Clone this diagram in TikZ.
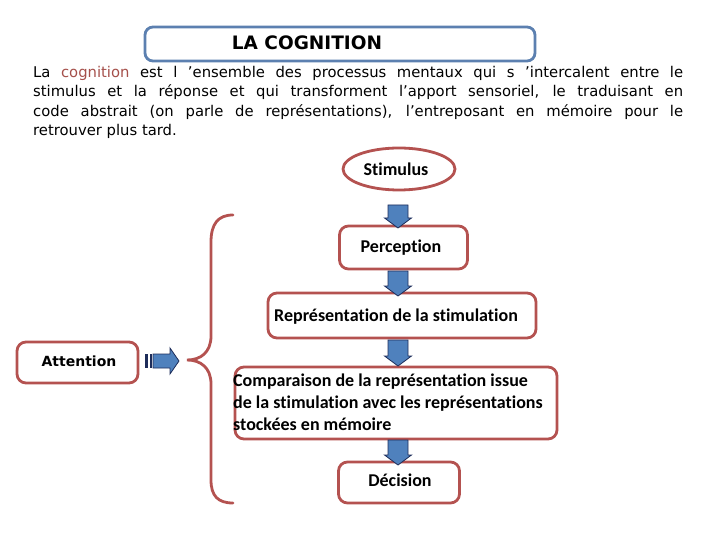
\documentclass[tikz,border=0pt]{standalone}
\usepackage{fontspec}
\setmainfont{DejaVu Sans}
\newfontfamily\boxfont[Ligatures=NoCommon]{Carlito}
\usetikzlibrary{shapes.geometric}
\definecolor{boxred}{RGB}{180,82,80}
\definecolor{cogred}{RGB}{165,80,75}
\definecolor{titleblue}{RGB}{92,128,176}
\definecolor{arrfill}{RGB}{79,129,189}
\definecolor{arrline}{RGB}{30,45,90}
\tikzset{
  redbox/.style={draw=boxred, line width=2.8pt, rounded corners=9pt, inner sep=0pt},
  boxtext/.style={font=\boxfont\bfseries\fontsize{18}{22}\selectfont, inner sep=0pt, text height=11.5pt, text depth=0pt},
  barrow/.style={draw=arrline, line width=0.8pt, fill=arrfill, line join=miter},
  bracestyle/.style={draw=boxred, line width=2.8pt, line cap=round}
}
\begin{document}
\begin{tikzpicture}[x=1pt,y=-1pt]
\useasboundingbox (0,0) rectangle (720,540);
% title
\node[draw=titleblue, line width=2.8pt, rounded corners=8pt, minimum width=390pt, minimum height=34pt, inner sep=0pt] (titlebox) at (340,44) {};
\node[font=\bfseries\fontsize{18.5}{20}\selectfont, inner sep=0pt, text height=13.3pt, text depth=0pt] (titletext) at (307,43) {LA COGNITION};
% paragraph
\node[anchor=north west, inner sep=0pt, text width=650pt, align=justify, font=\fontsize{14.8}{19.3}\selectfont] (para) at (33,66) {La \textcolor{cogred}{cognition} est l ’ensemble des processus mentaux qui s ’intercalent entre le\linebreak stimulus et la réponse et qui transforment l’apport sensoriel, le traduisant en\linebreak code abstrait (on parle de représentations), l’entreposant en mémoire pour le\linebreak retrouver plus tard.};
% boxes
\node[ellipse, draw=boxred, line width=2.8pt, minimum width=112pt, minimum height=42pt, inner sep=0pt] (stim) at (399,169) {};
\node[boxtext] (stimtext) at (396,170) {Stimulus};
\node[redbox, minimum width=128pt, minimum height=43pt] (perc) at (403.5,247.5) {};
\node[boxtext] (perctext) at (401,247) {Perception};
\node[redbox, minimum width=268pt, minimum height=45pt] (rep) at (402,315.5) {};
\node[boxtext] (reptext) at (396,316) {Représentation de la stimulation};
\node[redbox, minimum width=121pt, minimum height=41pt] (att) at (77.5,362.5) {};
\node[font=\bfseries\fontsize{14}{16}\selectfont, inner sep=0pt, text height=10.2pt, text depth=0pt] (atttext) at (79,361) {Attention};
\node[redbox, minimum width=322pt, minimum height=72pt] (comp) at (396,403) {};
\node[font=\boxfont\bfseries\fontsize{18}{22}\selectfont, inner sep=0pt, anchor=west, align=left] (comptext) at (233,402) {Comparaison de la représentation issue\\de la stimulation avec les représentations\\stockées en mémoire};
\node[redbox, minimum width=121pt, minimum height=41pt] (dec) at (399,482.5) {};
\node[boxtext] (dectext) at (400,481) {Décision};
% brace
\draw[bracestyle] (233,215) .. controls (218,215) and (211,224) .. (211,242) -- (211,336) .. controls (211,352) and (201,360) .. (187,360) .. controls (201,360) and (211,368) .. (211,384) -- (211,480) .. controls (211,496) and (218,503) .. (233,503);
% down arrows
\foreach \ya/\yb in {205/228, 271/296, 340/366, 440/465}{
  \draw[barrow] (388,\ya) -- (408,\ya) -- (408,\yb-10) -- (411.5,\yb-10) -- (398,\yb) -- (384.5,\yb-10) -- (388,\yb-10) -- cycle;
}
% right arrow with stripes
\fill[arrline] (145,354) rectangle (147.5,368);
\fill[arrline] (149.5,354) rectangle (151.5,368);
\draw[barrow] (153,354) -- (170,354) -- (170,348) -- (179,361) -- (170,374) -- (170,368) -- (153,368) -- cycle;
\end{tikzpicture}
\end{document}
